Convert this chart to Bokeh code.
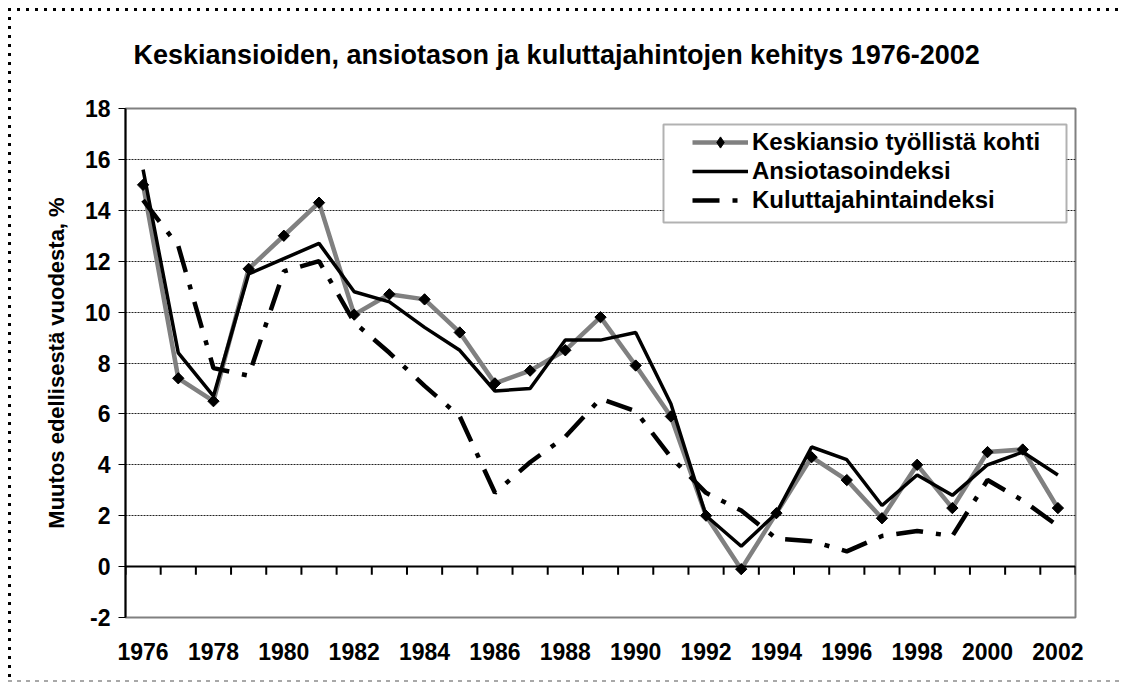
import math
from bokeh.plotting import figure
from bokeh.models import (FixedTicker, Legend, LegendItem, BoxAnnotation, Span, Range1d, Title,
                          InlineStyleSheet)
from bokeh.embed import file_html
from bokeh.resources import INLINE

years = list(range(1976, 2003))
keskiansio = [15.0, 7.4, 6.5, 11.7, 13.0, 14.3, 9.9, 10.7, 10.5, 9.2, 7.2, 7.7, 8.5, 9.8,
              7.9, 5.9, 2.0, -0.1, 2.1, 4.3, 3.4, 1.9, 4.0, 2.3, 4.5, 4.6, 2.3]
ansiotaso = [15.6, 8.4, 6.7, 11.5, 12.1, 12.7, 10.8, 10.4, 9.4, 8.5, 6.9, 7.0, 8.9, 8.9,
             9.2, 6.4, 2.0, 0.8, 2.1, 4.7, 4.2, 2.4, 3.6, 2.8, 4.0, 4.5, 3.6]
kuluttaja = [14.4, 12.6, 7.8, 7.5, 11.6, 12.0, 9.6, 8.4, 7.1, 5.9, 2.9, 4.1, 5.1, 6.6,
             6.1, 4.3, 2.9, 2.2, 1.1, 1.0, 0.6, 1.2, 1.4, 1.2, 3.4, 2.6, 1.6]
series_names = ["Keskiansio työllistä kohti", "Ansiotasoindeksi", "Kuluttajahintaindeksi"]
title_text = "Keskiansioiden, ansiotason ja kuluttajahintojen kehitys 1976-2002"
y_label = "Muutos edellisestä vuodesta, %"
y_ticks = list(range(-2, 19, 2))
x_label_years = years[::2]

FONT = "Liberation Sans"

p = figure(width=1120, height=683, output_backend="svg", toolbar_location=None,
           title=None,
           x_range=Range1d(years[0] - 0.5, years[-1] + 0.5), y_range=Range1d(-2, 18),
           min_border_left=125, min_border_right=45, min_border_top=108, min_border_bottom=66)

# chart-area frame: dotted top/left edge, grey dashed bottom edge (host background only)
p.stylesheets = [InlineStyleSheet(css="""
:host {
  background-color: #ffffff;
  background-image: repeating-linear-gradient(to right, #000000 0 3px, transparent 3px 9px),
                    repeating-linear-gradient(to bottom, #000000 0 3px, transparent 3px 9px),
                    repeating-linear-gradient(to right, #a8a8a8 0 4px, transparent 4px 9px);
  background-size: 1112px 3px, 3px 674px, 1112px 2px;
  background-position: 8px 8px, 8px 8px, 8px 680px;
  background-repeat: no-repeat, no-repeat, no-repeat;
}
""")]

p.background_fill_color = "white"
p.border_fill_color = "white"
p.border_fill_alpha = 0
p.outline_line_color = "#808080"
p.outline_line_width = 2

# title (a tiny spacer title keeps the gap between the title and the plot area)
p.add_layout(Title(text=" ", text_font_size="1px", text_color="white", standoff=36), "above")
p.add_layout(Title(text=title_text, align="left", offset=8, standoff=0,
                   text_color="black", text_font=FONT, text_font_size="27px",
                   text_font_style="bold"), "above")

# y axis
p.yaxis.ticker = FixedTicker(ticks=y_ticks)
p.yaxis.major_label_overrides = {-2: "-2"}
p.yaxis.axis_line_color = "black"
p.yaxis.axis_line_width = 2
p.yaxis.major_tick_line_color = "black"
p.yaxis.major_tick_line_width = 1
p.yaxis.major_tick_out = 7
p.yaxis.major_tick_in = 0
p.yaxis.minor_tick_line_color = None
p.yaxis.major_label_text_color = "black"
p.yaxis.major_label_text_font = FONT
p.yaxis.major_label_text_font_size = "23px"
p.yaxis.major_label_text_font_style = "bold"
p.yaxis.major_label_standoff = 8
p.yaxis.axis_label = y_label
p.yaxis.axis_label_text_color = "black"
p.yaxis.axis_label_text_font = FONT
p.yaxis.axis_label_text_font_size = "22px"
p.yaxis.axis_label_text_font_style = "bold"
p.yaxis.axis_label_standoff = 13

# x axis
p.xaxis.ticker = FixedTicker(ticks=x_label_years)
p.xaxis.axis_line_color = None
p.xaxis.major_tick_line_color = None
p.xaxis.major_tick_out = 0
p.xaxis.major_tick_in = 0
p.xaxis.minor_tick_line_color = None
p.xaxis.major_label_text_color = "black"
p.xaxis.major_label_text_font = FONT
p.xaxis.major_label_text_font_size = "23px"
p.xaxis.major_label_text_font_style = "bold"
p.xaxis.major_label_standoff = 25

# grid
p.xgrid.grid_line_color = None
p.ygrid.ticker = FixedTicker(ticks=y_ticks)
p.ygrid.grid_line_color = "#222222"
p.ygrid.grid_line_width = 1
p.ygrid.grid_line_dash = "2 1"

# zero axis line with category tick marks
p.add_layout(Span(location=0, dimension="width", line_color="black", line_width=2))
bounds = [y - 0.5 for y in years] + [years[-1] + 0.5]
p.segment(x0=bounds, y0=[0] * len(bounds), x1=bounds, y1=[-0.32] * len(bounds),
          line_color="black", line_width=2)

# series
r1 = p.line(years, keskiansio, line_color="#808080", line_width=4.5)
r1d = p.scatter(years, keskiansio, marker="diamond", size=10,
                fill_color="black", line_color="black")
r1m = p.scatter(years, keskiansio, marker="square", size=8, angle=math.pi / 4,
                fill_color="black", line_color="black")
r2 = p.line(years, ansiotaso, line_color="black", line_width=3.5)
r3 = p.line(years, kuluttaja, line_color="black", line_width=4.5, line_dash="27 13 5 13")

# legend box (white, black border) + legend entries
p.add_layout(BoxAnnotation(left=663, right=1066, top=124, bottom=222,
                           left_units="canvas", right_units="canvas",
                           top_units="canvas", bottom_units="canvas",
                           fill_color="white", fill_alpha=1,
                           line_color="black", line_width=2))

legend = Legend(items=[
    LegendItem(label=series_names[0], renderers=[r1, r1d]),
    LegendItem(label=series_names[1], renderers=[r2]),
    LegendItem(label=series_names[2], renderers=[r3]),
], location=(567, 403))
legend.border_line_color = None
legend.background_fill_alpha = 0
legend.label_text_color = "black"
legend.label_text_font = FONT
legend.label_text_font_size = "24px"
legend.label_text_font_style = "bold"
legend.glyph_width = 56
legend.glyph_height = 28
legend.label_height = 28
legend.label_standoff = 4
legend.padding = 0
legend.spacing = 1
legend.margin = 0
p.add_layout(legend)

open("out.html", "w").write(file_html(p, INLINE))
